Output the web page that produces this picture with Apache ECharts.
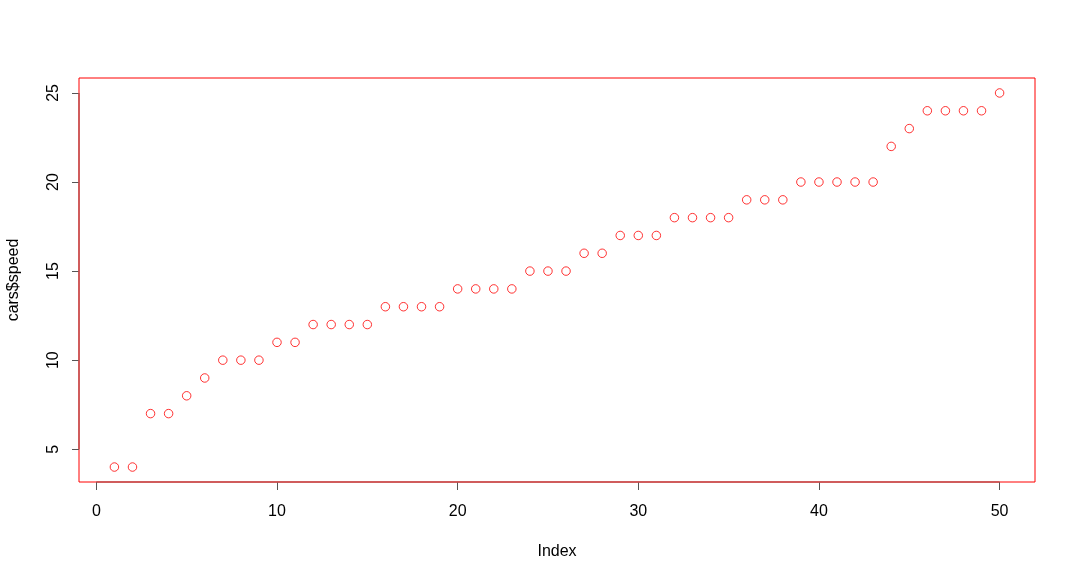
<!DOCTYPE html>
<html><head><meta charset="utf-8">
<script src="https://cdn.jsdelivr.net/npm/echarts@6/dist/echarts.min.js"></script>
<style>html,body{margin:0;padding:0;background:#fff}#c{width:1076px;height:581px}</style>
</head><body><div id="c"></div>
<script>
const speed = [4,4,7,7,8,9,10,10,10,11,11,12,12,12,12,13,13,13,13,14,14,14,14,15,15,15,16,16,17,17,17,18,18,18,18,19,19,19,20,20,20,20,20,22,23,24,24,24,24,25];
const xTicks = [0,10,20,30,40,50];
const yTicks = [5,10,15,20,25];
const xLabel = 'Index';
const yLabel = 'cars$speed';

const n = speed.length;
const xPad = (n - 1) * 0.04;
const yMinV = Math.min(...speed), yMaxV = Math.max(...speed);
const yPad = (yMaxV - yMinV) * 0.04;
const xMin = 1 - xPad, xMax = n + xPad;
const yMin = yMinV - yPad, yMax = yMaxV + yPad;
const font = 'Liberation Sans, Arial, sans-serif';

const chart = echarts.init(document.getElementById('c'));
chart.setOption({
  animation: false,
  grid: {left: 79, right: 41, top: 78, bottom: 99, show: true, borderColor: '#ff0000', borderWidth: 1, backgroundColor: 'transparent', containLabel: false, outerBoundsMode: 'none'},
  xAxis: {
    type: 'value', min: xMin, max: xMax,
    name: xLabel, nameLocation: 'middle', nameGap: 62,
    nameTextStyle: {color: '#000', fontSize: 16, fontFamily: font},
    axisLine: {show: false, onZero: false},
    splitLine: {show: false},
    axisTick: {show: true, customValues: xTicks, length: 8, lineStyle: {color: '#555', width: 1}},
    axisLabel: {customValues: xTicks, margin: 22, color: '#000', fontSize: 16, fontFamily: font}
  },
  yAxis: {
    type: 'value', min: yMin, max: yMax,
    name: yLabel, nameLocation: 'middle', nameGap: 57,
    nameTextStyle: {color: '#000', fontSize: 16, fontFamily: font},
    axisLine: {show: false, onZero: false},
    splitLine: {show: false},
    axisTick: {show: true, customValues: yTicks, length: 7, lineStyle: {color: '#555', width: 1}},
    axisLabel: {customValues: yTicks, margin: 17, rotate: 90, color: '#000', fontSize: 16, fontFamily: font}
  },
  series: [{
    type: 'scatter',
    data: speed.map((v, i) => [i + 1, v]),
    symbol: 'circle', symbolSize: 8.5,
    itemStyle: {color: '#fff', borderColor: '#ff0000', borderWidth: 1},
    markLine: {
      silent: true, symbol: 'none', label: {show: false},
      lineStyle: {color: '#c05050', width: 1.5, type: 'solid'},
      data: [
        [{coord: [xTicks[0], yMin]}, {coord: [xTicks[xTicks.length-1], yMin]}],
        [{coord: [xMin, yTicks[0]]}, {coord: [xMin, yTicks[yTicks.length-1]]}]
      ]
    }
  }]
});
</script></body></html>
